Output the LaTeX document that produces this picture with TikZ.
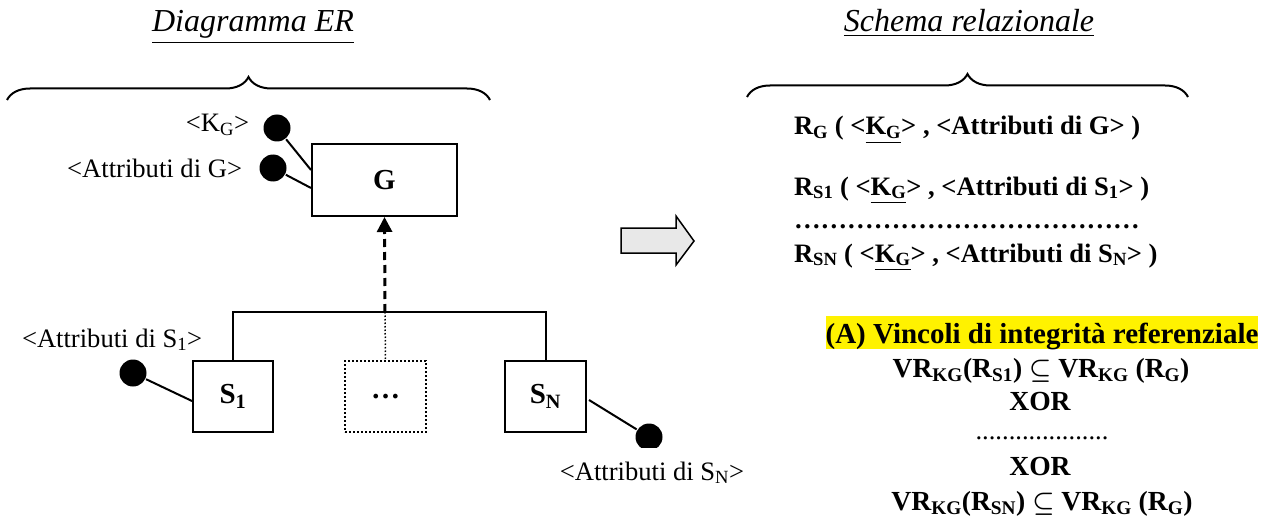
\documentclass[tikz,border=0pt]{standalone}
\usepackage{fontspec}
\setmainfont{Liberation Serif}
\usepackage{amsmath}
\usetikzlibrary{decorations.pathreplacing,arrows.meta,calc}
\newcommand\fsN{\fontsize{26.6pt}{32pt}\selectfont}
\newcommand\fsT{\fontsize{32pt}{38pt}\selectfont\itshape}
\newcommand\fsB{\fontsize{29pt}{34pt}\selectfont\bfseries}
\newcommand\fsR{\fontsize{26.6pt}{32pt}\selectfont\bfseries}
\newcommand\fsC{\fontsize{27.6pt}{33pt}\selectfont\bfseries}
\newcommand\fsH{\fontsize{29pt}{34pt}\selectfont\bfseries}
\begin{document}
\begin{tikzpicture}[x=1pt,y=-1pt,line width=2pt,
  ebox/.style={draw,line width=2pt,inner sep=0pt,font=\fsB},
  attrdot/.style={circle,fill=black,draw=none,minimum size=27pt,inner sep=0pt},
  lbl/.style={font=\fsN,inner sep=0pt},
  rel/.style={font=\fsR,inner sep=0pt,anchor=base west},
  ctr/.style={font=\fsC,inner sep=0pt,anchor=base},
  bracestyle/.style={decorate,decoration={brace,amplitude=23pt},line width=2pt},
  ttl/.style={font=\fsT,inner sep=0pt,anchor=base}]
\useasboundingbox (0,0) rectangle (1269,516);

% titles
\node[ttl] (t1) at (253,32) {\underline{Diagramma ER}};
\node[ttl] (t2) at (969,32) {\underline{Schema relazionale}};

% braces
\coordinate (b1l) at (7,100);
\coordinate (b1r) at (490,100);
\draw[bracestyle] (b1l) -- (b1r);
\coordinate (b2l) at (747,97);
\coordinate (b2r) at (1188,97);
\draw[bracestyle] (b2l) -- (b2r);

% entity G
\node[ebox,minimum width=145pt,minimum height=72pt] (G) at (384.5,180) {G};
\node[attrdot] (kg) at (277,128) {};
\node[attrdot] (ag) at (273,168) {};
\draw (kg) -- ([yshift=10pt]G.west);
\draw (ag) -- ([yshift=-8pt]G.west);
\node[lbl,anchor=east] (lkg) at (250,125) {<K\textsubscript{G}>};
\node[lbl,anchor=east] (lag) at (243,168) {<Attributi di G>};

% sub-entities
\node[ebox,minimum width=80pt,minimum height=71pt] (S1) at (233,396.5) {S\textsubscript{1}};
\node[ebox,dotted,line width=1.5pt,minimum width=81pt,minimum height=71pt] (dd) at (385.5,396.5) {…};
\node[ebox,minimum width=81pt,minimum height=71pt] (SN) at (545.5,396.5) {S\textsubscript{N}};

\coordinate (hub) at (385,312);
\draw (S1.north) -- (S1.north |- hub) -- (SN.north |- hub) -- (SN.north);
\draw[dotted,line width=1.5pt] (hub) -- (dd.north);
\draw[line width=3pt,dash pattern=on 8pt off 5pt,-{Triangle[width=15pt,length=15pt]}] (hub) -- (G.south);

% attributes of S1
\node[attrdot] (a1) at (133,373) {};
\draw (a1) -- ([yshift=-4.5pt]S1.west);
\node[lbl,anchor=base west] (la1) at (21,347) {<Attributi di S\textsubscript{1}>};

% attributes of SN (dot clipped at bottom)
\begin{scope}
\clip (600,400) rectangle (700,447);
\node[attrdot] (an) at (649,437) {};
\end{scope}
\draw ([xshift=2pt,yshift=-3.5pt]SN.east) -- (an);
\node[lbl,anchor=base] (lan) at (652,480) {<Attributi di S\textsubscript{N}>};

% big arrow
\draw[line width=1.5pt,fill=black!9,line join=miter] (621,228) -- (676,228) -- (676,216) -- (694,241) -- (676,265) -- (676,253) -- (621,253) -- cycle;

% relational schema
\node[rel] (r1) at (793,135) {R\textsubscript{G} ( <\underline{K\textsubscript{G}}> , <Attributi di G> )};
\node[rel] (r2) at (793,195) {R\textsubscript{S1} ( <\underline{K\textsubscript{G}}> , <Attributi di S\textsubscript{1}> )};
\node[rel] (r3) at (793,228) {…………………………………};
\node[rel] (r4) at (793,262) {R\textsubscript{SN} ( <\underline{K\textsubscript{G}}> , <Attributi di S\textsubscript{N}> )};

% constraints
\node[font=\fsH,inner sep=0pt,anchor=base,fill=yellow,text height=27pt,text depth=6pt] (c0) at (1042,343) {(A) Vincoli di integrità referenziale};
\node[ctr] (c1) at (1041,377) {VR\textsubscript{KG}(R\textsubscript{S1}) {\boldmath$\subseteq$} VR\textsubscript{KG} (R\textsubscript{G})};
\node[ctr] (c2) at (1040,410) {XOR};
\node[lbl,anchor=base] (c3) at (1042,439) {....................};
\node[ctr] (c4) at (1040,475) {XOR};
\node[ctr] (c5) at (1042,510) {VR\textsubscript{KG}(R\textsubscript{SN}) {\boldmath$\subseteq$} VR\textsubscript{KG} (R\textsubscript{G})};
\end{tikzpicture}
\end{document}
